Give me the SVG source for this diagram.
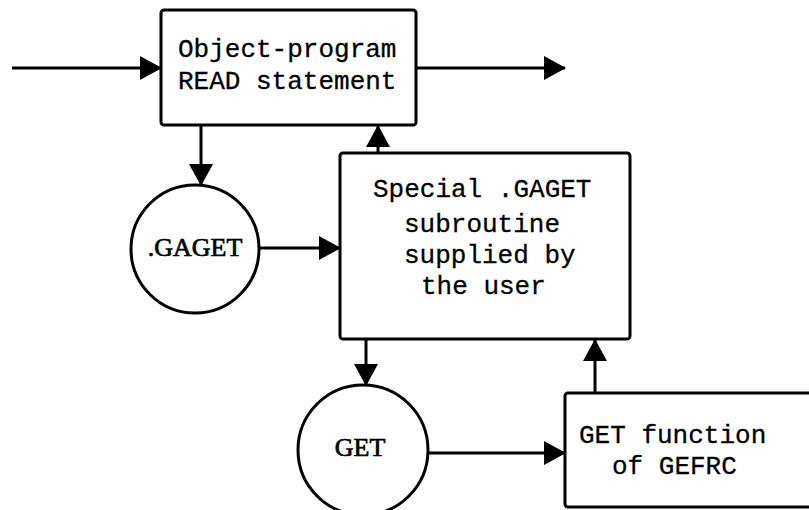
<svg xmlns="http://www.w3.org/2000/svg" width="809" height="510" viewBox="0 0 809 510">
  <defs>
    <marker id="arrow" markerUnits="userSpaceOnUse" markerWidth="24" markerHeight="26" refX="21" refY="13" orient="auto">
      <path d="M0,1 L22,13 L0,25 z" fill="#000"/>
    </marker>
    <style>
      .box { fill: #fff; stroke: #000; stroke-width: 3; }
      .circ { fill: #fff; stroke: #000; stroke-width: 3; }
      .edge { fill: none; stroke: #000; stroke-width: 3; marker-end: url(#arrow); }
      .tw { font-family: "Liberation Mono", "Courier New", monospace; font-size: 26px; fill: #000; stroke: #000; stroke-width: 0.3; }
      .sf { font-family: "Liberation Serif", "Times New Roman", serif; font-size: 26px; fill: #000; stroke: #000; stroke-width: 0.7; text-anchor: middle; }
    </style>
  </defs>
  <rect width="809" height="510" fill="#fff"/>

  <!-- connectors -->
  <g id="connectors">
    <line class="edge" x1="12" y1="68" x2="161" y2="68"/>
    <line class="edge" x1="416" y1="68" x2="565" y2="68"/>
    <line class="edge" x1="201" y1="125" x2="201" y2="185"/>
    <line class="edge" x1="378" y1="153" x2="378" y2="126"/>
    <line class="edge" x1="259" y1="248" x2="340" y2="248"/>
    <line class="edge" x1="366" y1="339" x2="366" y2="385"/>
    <line class="edge" x1="428" y1="453" x2="565" y2="453"/>
    <line class="edge" x1="595" y1="393" x2="595" y2="340"/>
  </g>

  <!-- READ statement box -->
  <g id="read-statement">
    <rect class="box" x="161" y="10" width="255" height="115" rx="3"/>
    <text class="tw" x="178" y="57">Object-program</text>
    <text class="tw" x="178" y="89">READ statement</text>
  </g>

  <!-- .GAGET entry -->
  <g id="gaget">
    <circle class="circ" cx="195" cy="249" r="64"/>
    <text class="sf" x="195" y="256">.GAGET</text>
  </g>

  <!-- user-supplied subroutine -->
  <g id="special-gaget">
    <rect class="box" x="340" y="153" width="290" height="186" rx="3"/>
    <text class="tw" x="373" y="197">Special .GAGET</text>
    <text class="tw" x="404" y="232">subroutine</text>
    <text class="tw" x="404" y="263">supplied by</text>
    <text class="tw" x="421" y="294">the user</text>
  </g>

  <!-- GET entry -->
  <g id="get">
    <circle class="circ" cx="363" cy="450" r="65"/>
    <text class="sf" x="360" y="456">GET</text>
  </g>

  <!-- GEFRC GET function -->
  <g id="gefrc">
    <rect class="box" x="565" y="393" width="260" height="114" rx="3"/>
    <text class="tw" x="579" y="443">GET function</text>
    <text class="tw" x="612" y="474">of GEFRC</text>
  </g>
</svg>
